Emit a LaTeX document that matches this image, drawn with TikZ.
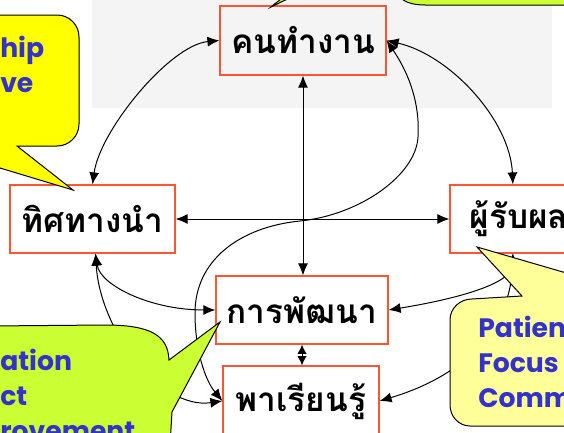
\documentclass[tikz,border=0pt]{standalone}
\usepackage{fontspec}
\usetikzlibrary{arrows.meta}
\newfontfamily\thaifont[Script=Thai]{Loma}
\newfontfamily\callfont{Poppins}
\definecolor{boxred}{HTML}{FF5533}
\definecolor{callblue}{HTML}{3333CC}
\definecolor{calllime}{HTML}{CCFF33}
\definecolor{callyellow}{HTML}{FFFF00}
\definecolor{callpale}{HTML}{FFFF99}
\definecolor{bandgray}{HTML}{F4F4F4}
\begin{document}
\begin{tikzpicture}[x=0.75pt,y=-0.75pt,
  >={Latex[length=9pt,width=7.5pt]},
  box/.style={draw=boxred, line width=0.9pt, inner sep=0pt,
    font=\thaifont\bfseries\fontsize{25}{28}\selectfont},
  link/.style={line width=0.75pt, black},
  shortlink/.style={line width=0.75pt, {Latex[length=7pt,width=7pt]}-{Latex[length=7pt,width=7pt]}},
  callout/.style={draw=black, line width=0.75pt},
  calltext/.style={font=\callfont\bfseries\fontsize{20}{24}\selectfont, text=callblue, inner sep=0pt}
]
\useasboundingbox (0,0) rectangle (564,432);
\clip (0,0) rectangle (564,432);
\fill[white] (0,0) rectangle (564,432);
\fill[bandgray] (92,0) rectangle (552,108);

% boxes
\node[box, minimum width=124.5pt, minimum height=51.75pt] (kon) at (303,40.5) {คนทำงาน};
\node[box, minimum width=123.75pt, minimum height=51pt] (tit) at (92.5,219) {ทิศทางนำ};
\node[box, minimum width=103.5pt, minimum height=51pt] (phu) at (519,219) {ผู้รับผล};
\node[box, minimum width=129pt, minimum height=51pt] (kan) at (302,310) {การพัฒนา};
\node[box, minimum width=117pt, minimum height=52.5pt] (pha) at (301,401) {พาเรียนรู้};

% connectors
\draw[link,<->] (tit.north) .. controls (100,130) and (170,45) .. (kon.west);
\draw[link,<->] (kon.east) .. controls (450,55) and (510,120) .. (phu.100);
\draw[link,<->] (kon.east) .. controls (410,75) and (420,105) .. (418,137)
   .. controls (416,175) and (360,215) .. (300,221)
   .. controls (240,227) and (195,260) .. (195,313)
   .. controls (195,350) and (205,380) .. (pha.west);
\draw[link,<->] (tit.east) -- (phu.west);
\draw[link,<->] (kon.south) -- (kon.south |- kan.north);
\draw[link,<->] (tit.275) .. controls (100,285) and (150,310) .. (kan.west);
\draw[link,<->] (tit.275) .. controls (100,330) and (160,410) .. (pha.west);
\draw[link,<->] (phu.260) .. controls (512,285) and (450,300) .. (kan.east);
\draw[link,<->] (phu.260) .. controls (510,340) and (450,380) .. (pha.east);
\draw[shortlink] (kan.south) -- (kan.south |- pha.north);

% callouts
\draw[callout, fill=callyellow] (-10,15) -- (57,15) to[out=0,in=90] (79,37) -- (79,124)
   to[out=-90,in=0] (57,146) -- (17,146) -- (73,190) -- (-10,165) -- cycle;
\draw[callout, fill=calllime] (398,-10) to[out=-90,in=180] (425,5) -- (580,5) -- (580,-10) -- cycle;
\draw[callout, fill=calllime] (271,7) .. controls (275,3) and (281,0) .. (292,-10) -- (306,-10) -- cycle;
\draw[callout, fill=calllime] (-10,326) -- (105,325) .. controls (150,325) and (168,335) .. (169,360)
   -- (220,322) -- (172,412) -- (170,445) -- (-10,445) -- cycle;
\draw[callout, fill=callpale] (477,247) -- (522,296) -- (472,299) to[out=180,in=90] (450,320)
   -- (450,405) to[out=-90,in=180] (470,426) -- (580,426) -- (580,277) -- cycle;

% callout texts
\node[calltext, anchor=base west] (c1) at (0,57) {hip};
\node[calltext, anchor=base west] (c2) at (0,92) {ve};
\node[calltext, anchor=base west] (c3) at (478,337) {Patien};
\node[calltext, anchor=base west] (c4) at (478,372) {Focus};
\node[calltext, anchor=base west] (c5) at (478,407) {Commu};
\node[calltext, anchor=base west] (c6) at (0,370) {ation};
\node[calltext, anchor=base west] (c7) at (0,405) {ct};
\node[calltext, anchor=base west] (c8) at (0,440) {rovement};
\end{tikzpicture}
\end{document}
